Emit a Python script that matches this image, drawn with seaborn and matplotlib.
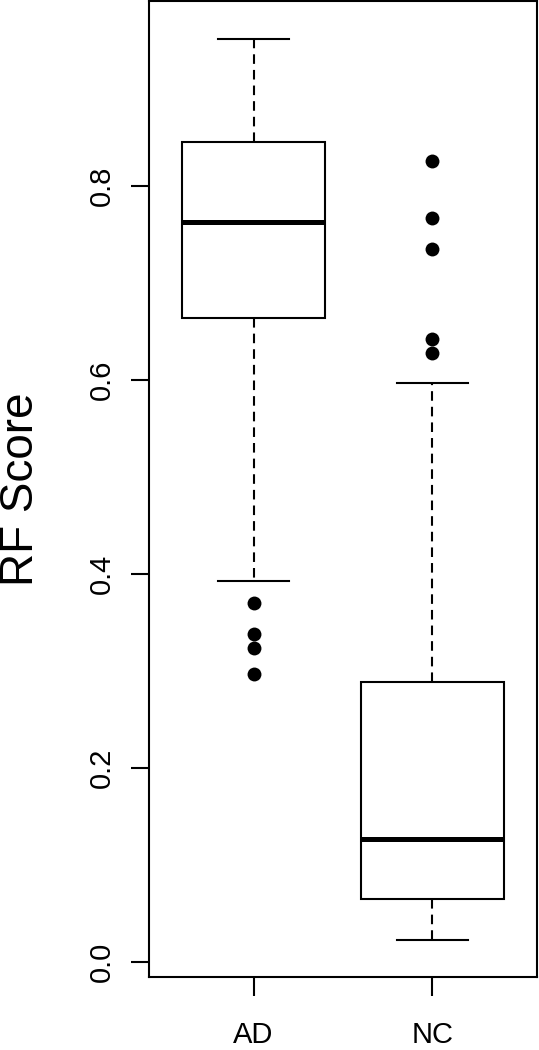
import seaborn as sns
import matplotlib.pyplot as plt
import pandas as pd

# box summaries: lower whisker, Q1, median, Q3, upper whisker
groups = ["AD", "NC"]
ad_summary = [0.3926, 0.6636, 0.763, 0.845, 0.952]
nc_summary = [0.0227, 0.065, 0.1265, 0.2888, 0.5965]

# points beyond the whiskers
ad_outliers = [0.370, 0.338, 0.3236, 0.2967]
nc_outliers = [0.826, 0.767, 0.735, 0.642, 0.6275]

y_ticks = [0.0, 0.2, 0.4, 0.6, 0.8]
y_tick_labels = ["0.0", "0.2", "0.4", "0.6", "0.8"]

plt.rcParams["font.family"] = ["Liberation Sans", "DejaVu Sans"]

boxes = pd.DataFrame({
    "group": ["AD"] * len(ad_summary) + ["NC"] * len(nc_summary),
    "score": ad_summary + nc_summary,
})
points = pd.DataFrame({
    "group": ["AD"] * len(ad_outliers) + ["NC"] * len(nc_outliers),
    "score": ad_outliers + nc_outliers,
})

fig = plt.figure(figsize=(5.39, 10.5), dpi=100)
ax = fig.add_axes([149 / 539, 73 / 1050, 388 / 539, 976 / 1050])

lw = 1.5
sns.boxplot(x="group", y="score", data=boxes, order=groups, ax=ax,
            whis=(0, 100), width=0.8, color="white", linecolor="black",
            linewidth=lw, fill=True,
            boxprops=dict(facecolor="white", edgecolor="black", linewidth=lw),
            medianprops=dict(color="black", linewidth=3.6),
            whiskerprops=dict(color="black", linewidth=lw, linestyle=(0, (4.6, 2.9))),
            capprops=dict(color="black", linewidth=lw))

sns.stripplot(x="group", y="score", data=points, order=groups, ax=ax,
              jitter=False, color="black", size=10, linewidth=0)

ax.set_xlim(-0.584, 1.584)
ax.set_ylim(-0.0158, 0.9908)
ax.set_yticks(y_ticks)
ax.set_yticklabels(y_tick_labels, rotation=90, va="center")
ax.tick_params(axis="y", length=13, width=lw, labelsize=21, pad=11)
ax.tick_params(axis="x", length=13.7, width=lw, labelsize=21, pad=18)
for s in ax.spines.values():
    s.set_visible(True)
    s.set_linewidth(lw)
    s.set_color("black")

ax.set_xlabel("")
ax.set_ylabel("RF Score", fontsize=33)
ax.yaxis.set_label_coords(-0.274, 0.5)

fig.savefig("out.png", dpi=100, facecolor="white")
